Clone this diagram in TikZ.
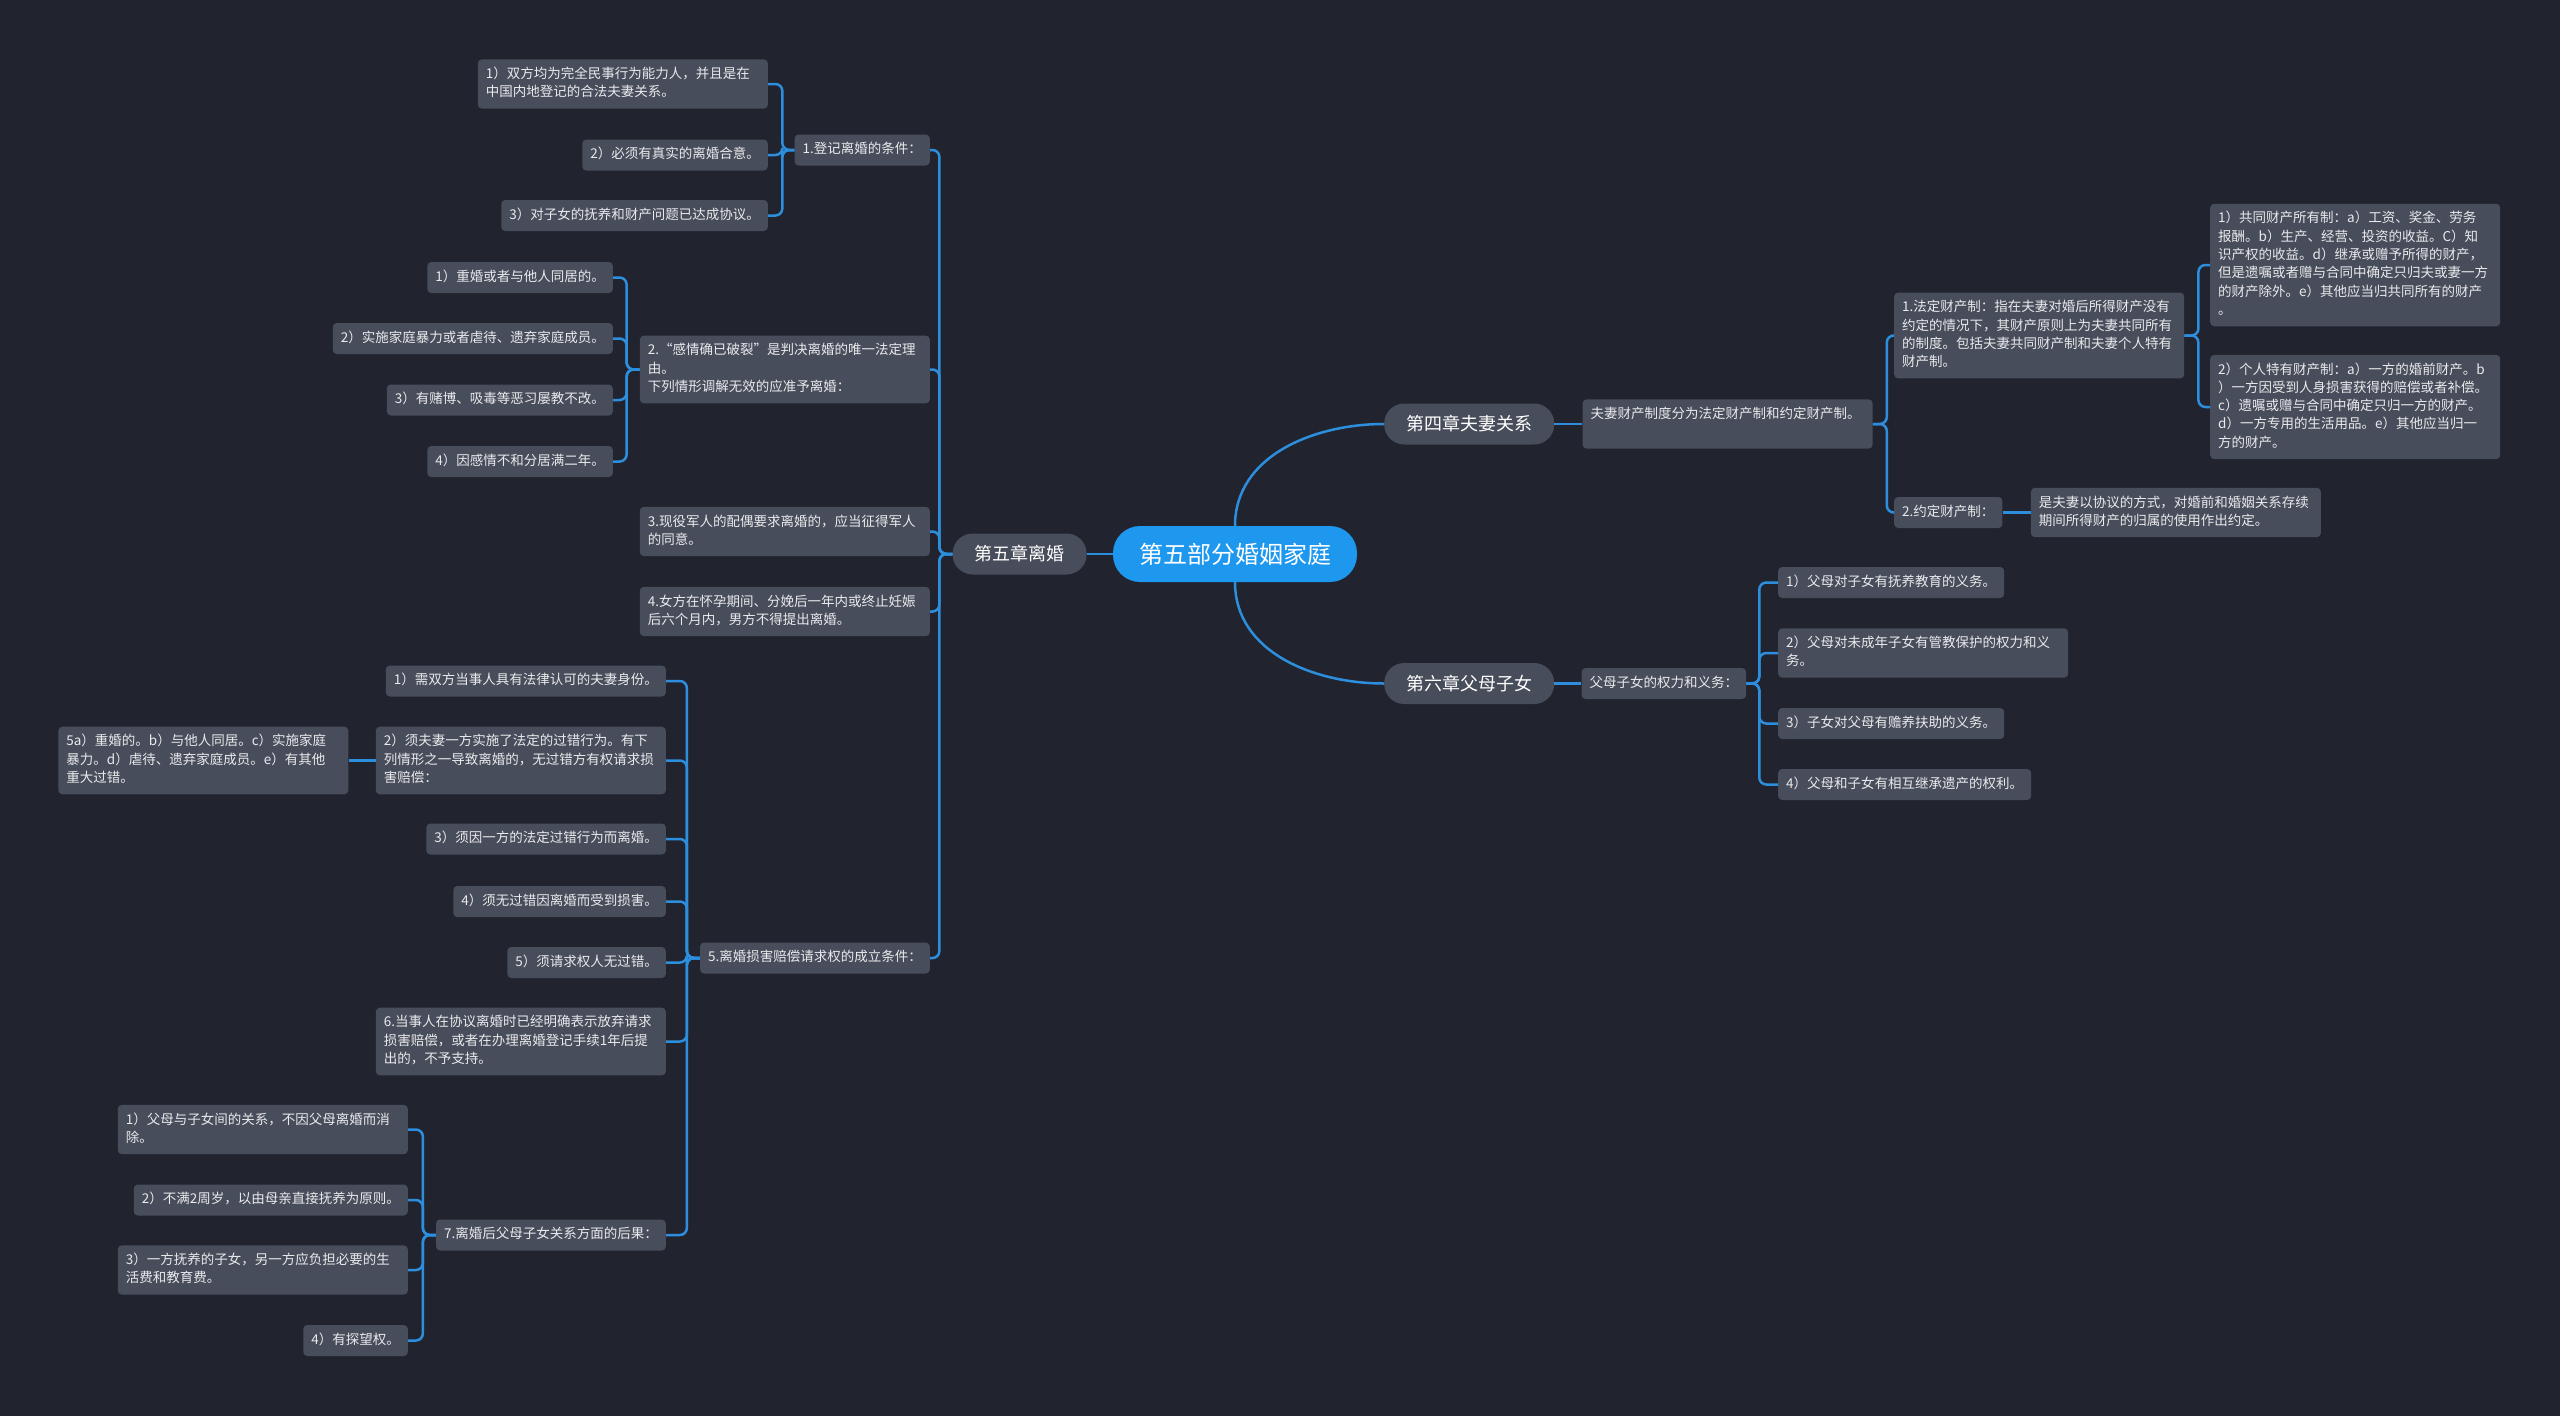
\documentclass[tikz,border=0pt]{standalone}
\usepackage{fontspec}
\setmainfont{Noto Sans CJK SC}
\usepackage{xcolor}
\usepackage{tikz}
\usetikzlibrary{positioning}
\definecolor{bgdark}{HTML}{21242F}
\definecolor{boxgray}{HTML}{484D5B}
\definecolor{linkblue}{HTML}{2C8EDD}
\definecolor{rootblue}{HTML}{1E97EF}
\definecolor{txtlight}{HTML}{E9EAEC}

\begin{document}
\begin{tikzpicture}[
    x=1pt, y=-1pt,
    leaf/.style={rectangle, rounded corners=4pt, fill=boxgray, text=txtlight, align=left, font=\fontsize{13.5pt}{18.3pt}\selectfont, inner xsep=8pt, inner ysep=6.35pt, execute at begin node=\strut, execute at end node=\strut},
    wide/.style={leaf, text width=274pt},
    chap/.style={rectangle, rounded corners=20pt, fill=boxgray, text=white, font=\fontsize{18pt}{22pt}\selectfont, inner xsep=22pt, minimum height=41pt},
    rootbox/.style={rectangle, rounded corners=27pt, fill=rootblue, text=white, font=\fontsize{24pt}{28pt}\selectfont, inner xsep=26pt, minimum height=56pt},
    link/.style={draw=linkblue, line width=2.5pt, rounded corners=7pt},
]
    \fill[bgdark] (0,0) rectangle (2560,1416);
    \useasboundingbox (0,0) rectangle (2560,1416);

    \node[rootbox] (root) at (1235,554) {第五部分婚姻家庭};
    \node[chap, left=26pt of root] (ch5) {第五章离婚};
    \node[chap, anchor=west] (ch4) at (1384,424) {第四章夫妻关系};
    \node[chap, anchor=west] (ch6) at (1384,683.5) {第六章父母子女};

    \node[leaf, anchor=east] (reg) at (930,150) {1.登记离婚的条件：};
    \node[wide, anchor=east] (reg1) at (768,84) {1）双方均为完全民事行为能力人，并且是在\\中国内地登记的合法夫妻关系。};
    \node[leaf, anchor=east] (reg2) at (768,155) {2）必须有真实的离婚合意。};
    \node[leaf, anchor=east] (reg3) at (768,215.5) {3）对子女的抚养和财产问题已达成协议。};
    \node[wide, anchor=east] (feel) at (930,369.5) {2.“感情确已破裂”是判决离婚的唯一法定理\\由。\\下列情形调解无效的应准予离婚：};
    \node[leaf, anchor=east] (feel1) at (613,277.5) {1）重婚或者与他人同居的。};
    \node[leaf, anchor=east] (feel2) at (613,338.5) {2）实施家庭暴力或者虐待、遗弃家庭成员。};
    \node[leaf, anchor=east] (feel3) at (613,400) {3）有赌博、吸毒等恶习屡教不改。};
    \node[leaf, anchor=east] (feel4) at (613,461.5) {4）因感情不和分居满二年。};
    \node[wide, anchor=east] (army) at (930,531.5) {3.现役军人的配偶要求离婚的，应当征得军人\\的同意。};
    \node[wide, anchor=east] (preg) at (930,611.5) {4.女方在怀孕期间、分娩后一年内或终止妊娠\\后六个月内，男方不得提出离婚。};
    \node[leaf, anchor=east] (dmg) at (930,958) {5.离婚损害赔偿请求权的成立条件：};
    \node[leaf, anchor=east] (dmg1) at (666,681) {1）需双方当事人具有法律认可的夫妻身份。};
    \node[wide, anchor=east] (dmg2) at (666,760.5) {2）须夫妻一方实施了法定的过错行为。有下\\列情形之一导致离婚的，无过错方有权请求损\\害赔偿：};
    \node[wide, left=27pt of dmg2] (dmg2a) {5a）重婚的。b）与他人同居。c）实施家庭\\暴力。d）虐待、遗弃家庭成员。e）有其他\\重大过错。};
    \node[leaf, anchor=east] (dmg3) at (666,839) {3）须因一方的法定过错行为而离婚。};
    \node[leaf, anchor=east] (dmg4) at (666,901.5) {4）须无过错因离婚而受到损害。};
    \node[leaf, anchor=east] (dmg5) at (666,962.5) {5）须请求权人无过错。};
    \node[wide, anchor=east] (dmg6) at (666,1041.5) {6.当事人在协议离婚时已经明确表示放弃请求\\损害赔偿，或者在办理离婚登记手续1年后提\\出的，不予支持。};
    \node[leaf, anchor=east] (dmg7) at (666,1235) {7.离婚后父母子女关系方面的后果：};
    \node[wide, anchor=east] (kid1) at (408,1129.5) {1）父母与子女间的关系，不因父母离婚而消\\除。};
    \node[leaf, anchor=east] (kid2) at (408,1200) {2）不满2周岁，以由母亲直接抚养为原则。};
    \node[wide, anchor=east] (kid3) at (408,1270) {3）一方抚养的子女，另一方应负担必要的生\\活费和教育费。};
    \node[leaf, anchor=east] (kid4) at (408,1340.5) {4）有探望权。};

    \node[wide, right=28pt of ch4] (prop) {夫妻财产制度分为法定财产制和约定财产制。\\\mbox{}};
    \node[wide, anchor=west] (legal) at (1894,335.5) {1.法定财产制：指在夫妻对婚后所得财产没有\\约定的情况下，其财产原则上为夫妻共同所有\\的制度。包括夫妻共同财产制和夫妻个人特有\\财产制。};
    \node[wide, anchor=west] (legal1) at (2210,265) {1）共同财产所有制：a）工资、奖金、劳务\\报酬。b）生产、经营、投资的收益。C）知\\识产权的收益。d）继承或赠予所得的财产，\\但是遗嘱或者赠与合同中确定只归夫或妻一方\\的财产除外。e）其他应当归共同所有的财产\\。};
    \node[wide, anchor=west] (legal2) at (2210,407) {2）个人特有财产制：a）一方的婚前财产。b\\）一方因受到人身损害获得的赔偿或者补偿。\\c）遗嘱或赠与合同中确定只归一方的财产。\\d）一方专用的生活用品。e）其他应当归一\\方的财产。};
    \node[leaf, anchor=west] (agree) at (1894,512.5) {2.约定财产制：};
    \node[wide, right=28pt of agree] (agree1) {是夫妻以协议的方式，对婚前和婚姻关系存续\\期间所得财产的归属的使用作出约定。};

    \node[leaf, right=27pt of ch6] (duty) {父母子女的权力和义务：};
    \node[leaf, anchor=west] (duty1) at (1778,582.5) {1）父母对子女有抚养教育的义务。};
    \node[wide, anchor=west] (duty2) at (1778,653) {2）父母对未成年子女有管教保护的权力和义\\务。};
    \node[leaf, anchor=west] (duty3) at (1778,723.5) {3）子女对父母有赡养扶助的义务。};
    \node[leaf, anchor=west] (duty4) at (1778,784.5) {4）父母和子女有相互继承遗产的权利。};

    \draw[link] (root.west) -- (ch5.east);
    \draw[link] (root.north) .. controls +(0,-70) and +(-70,0) .. (ch4.west);
    \draw[link] (root.south) .. controls +(0,70) and +(-70,0) .. (ch6.west);

    \draw[link] (ch5.west) -- ++(-13,0) |- (reg.east);
    \draw[link] (ch5.west) -- ++(-13,0) |- (feel.east);
    \draw[link] (ch5.west) -- ++(-13,0) |- (army.east);
    \draw[link] (ch5.west) -- ++(-13,0) |- (preg.east);
    \draw[link] (ch5.west) -- ++(-13,0) |- (dmg.east);
    \draw[link] (reg.west) -- ++(-12,0) |- (reg1.east);
    \draw[link] (reg.west) -- ++(-12,0) |- (reg2.east);
    \draw[link] (reg.west) -- ++(-12,0) |- (reg3.east);
    \draw[link] (feel.west) -- ++(-13,0) |- (feel1.east);
    \draw[link] (feel.west) -- ++(-13,0) |- (feel2.east);
    \draw[link] (feel.west) -- ++(-13,0) |- (feel3.east);
    \draw[link] (feel.west) -- ++(-13,0) |- (feel4.east);
    \draw[link] (dmg.west) -- ++(-13,0) |- (dmg1.east);
    \draw[link] (dmg.west) -- ++(-13,0) |- (dmg2.east);
    \draw[link] (dmg.west) -- ++(-13,0) |- (dmg3.east);
    \draw[link] (dmg.west) -- ++(-13,0) |- (dmg4.east);
    \draw[link] (dmg.west) -- ++(-13,0) |- (dmg5.east);
    \draw[link] (dmg.west) -- ++(-13,0) |- (dmg6.east);
    \draw[link] (dmg.west) -- ++(-13,0) |- (dmg7.east);
    \draw[link] (dmg2.west) -- (dmg2a.east);
    \draw[link] (dmg7.west) -- ++(-13,0) |- (kid1.east);
    \draw[link] (dmg7.west) -- ++(-13,0) |- (kid2.east);
    \draw[link] (dmg7.west) -- ++(-13,0) |- (kid3.east);
    \draw[link] (dmg7.west) -- ++(-13,0) |- (kid4.east);

    \draw[link] (ch4.east) -- (prop.west);
    \draw[link] (prop.east) -- ++(14,0) |- (legal.west);
    \draw[link] (prop.east) -- ++(14,0) |- (agree.west);
    \draw[link] (legal.east) -- ++(14,0) |- (legal1.west);
    \draw[link] (legal.east) -- ++(14,0) |- (legal2.west);
    \draw[link] (agree.east) -- (agree1.west);
    \draw[link] (ch6.east) -- (duty.west);
    \draw[link] (duty.east) -- ++(13,0) |- (duty1.west);
    \draw[link] (duty.east) -- ++(13,0) |- (duty2.west);
    \draw[link] (duty.east) -- ++(13,0) |- (duty3.west);
    \draw[link] (duty.east) -- ++(13,0) |- (duty4.west);
\end{tikzpicture}
\end{document}
